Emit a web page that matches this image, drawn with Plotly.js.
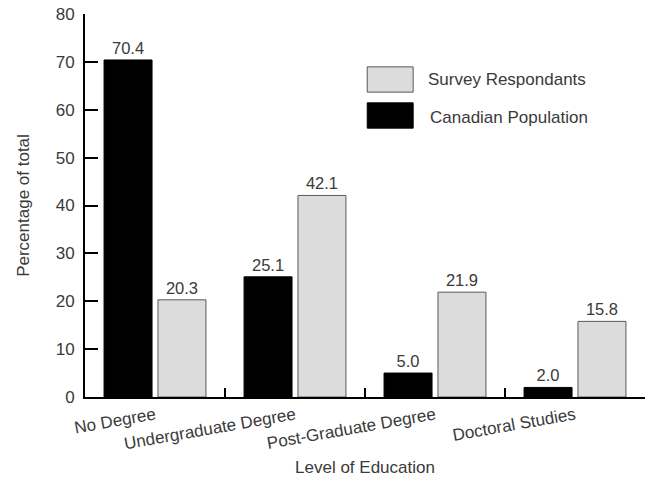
<!DOCTYPE html>
<html><head><meta charset="utf-8">
<script src="https://cdn.plot.ly/plotly-3.0.1.min.js"></script>
<style>html,body{margin:0;padding:0;background:#fff}</style>
</head><body>
<div id="chart" style="width:649px;height:483px"></div>
<script>
const categories = ["No Degree", "Undergraduate Degree", "Post-Graduate Degree", "Doctoral Studies"];
const canadianPopulation = [70.4, 25.1, 5.0, 2.0];
const surveyRespondants = [20.3, 42.1, 21.9, 15.8];
const yTicks = [0, 10, 20, 30, 40, 50, 60, 70, 80];
const seriesNames = ["Canadian Population", "Survey Respondants"];

const FONT = "'Liberation Sans', Arial, Helvetica, sans-serif";
const TXT = "#3a3a3a";

const traces = [
  {
    type: "bar", name: seriesNames[0], x: categories, y: canadianPopulation,
    marker: {color: "#000000", line: {color: "#000000", width: 1}},
    texttemplate: "%{y:.1f}", textposition: "outside", cliponaxis: false,
    textfont: {family: FONT, size: 16.5, color: TXT}, showlegend: false
  },
  {
    type: "bar", name: seriesNames[1], x: categories, y: surveyRespondants,
    marker: {color: "#dcdcdc", line: {color: "#5a5a5a", width: 1}},
    texttemplate: "%{y:.1f}", textposition: "outside", cliponaxis: false,
    textfont: {family: FONT, size: 16.5, color: TXT}, showlegend: false
  }
];

const layout = {
  width: 649, height: 483,
  margin: {l: 85, r: 4, t: 14, b: 86},
  paper_bgcolor: "#ffffff", plot_bgcolor: "#ffffff",
  font: {family: FONT, size: 17, color: TXT},
  barmode: "group", bargap: 0.23, bargroupgap: 0.11,
  showlegend: false,
  xaxis: {
    type: "category", showline: true, linecolor: "#000", linewidth: 2,
    ticks: "inside", tickson: "boundaries", ticklen: 9, tickwidth: 2, tickcolor: "#000",
    tickangle: -10, tickfont: {family: FONT, size: 17, color: TXT},
    showgrid: false, zeroline: false,
    title: {text: "Level of Education", font: {family: FONT, size: 17, color: TXT}, standoff: 9}
  },
  yaxis: {
    range: [0, 80], tickvals: yTicks, showline: true, linecolor: "#000", linewidth: 2,
    ticks: "inside", ticklen: 13, tickwidth: 2, tickcolor: "#000",
    tickfont: {family: FONT, size: 17, color: TXT}, ticklabelstandoff: 5,
    showgrid: false, zeroline: false,
    title: {text: "Percentage of total", font: {family: FONT, size: 17, color: TXT}, standoff: 22}
  },
  shapes: [
    {type: "rect", xref: "paper", yref: "paper", x0: 0.504, x1: 0.586, y0: 0.796, y1: 0.862,
     fillcolor: "#dcdcdc", line: {color: "#5a5a5a", width: 1}},
    {type: "rect", xref: "paper", yref: "paper", x0: 0.504, x1: 0.586, y0: 0.702, y1: 0.768,
     fillcolor: "#000000", line: {color: "#000000", width: 1}}
  ],
  annotations: [
    {xref: "paper", yref: "paper", x: 0.609, y: 0.828, xanchor: "left", yanchor: "middle",
     text: seriesNames[1], showarrow: false, font: {family: FONT, size: 17, color: TXT}},
    {xref: "paper", yref: "paper", x: 0.6125, y: 0.731, xanchor: "left", yanchor: "middle",
     text: seriesNames[0], showarrow: false, font: {family: FONT, size: 17, color: TXT}}
  ]
};

Plotly.newPlot("chart", traces, layout, {displayModeBar: false, staticPlot: true});
</script>
</body></html>
